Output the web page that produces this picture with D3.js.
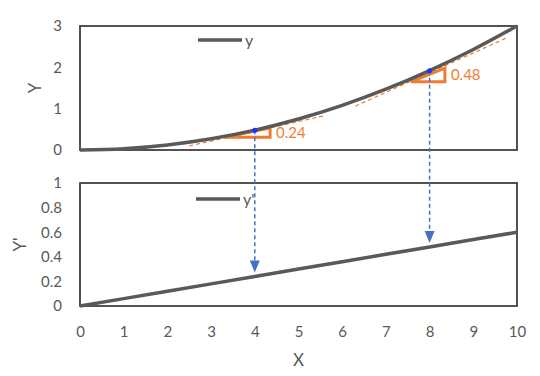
<!DOCTYPE html>
<html>
<head>
<meta charset="utf-8">
<script src="https://cdn.jsdelivr.net/npm/d3@7"></script>
<style>
  body { margin: 0; background: #fff; }
  text { font-family: Lato, "Open Sans", sans-serif; }
</style>
</head>
<body>
<svg id="drawing_region"></svg>
<script>
// data
const xs = [0, 1, 2, 3, 4, 5, 6, 7, 8, 9, 10];
const yVals = [0, 0.03, 0.12, 0.27, 0.48, 0.75, 1.08, 1.47, 1.92, 2.43, 3.0];
const dyVals = [0, 0.06, 0.12, 0.18, 0.24, 0.30, 0.36, 0.42, 0.48, 0.54, 0.60];
const xTicks = [0, 1, 2, 3, 4, 5, 6, 7, 8, 9, 10];
const yTicks = [0, 1, 2, 3];
const dyTicks = [0, 0.2, 0.4, 0.6, 0.8, 1];
// marked points and their slopes
const markX = [4, 8];
const markY = [0.48, 1.92];
const slopeLabels = ['0.24', '0.48'];
// tangent segments [x0, y0, x1, y1]
const tangents = [[2.5, 0.10, 5.6, 0.83], [6.3, 1.06, 9.8, 2.73]];
// slope triangles [xLeft, xRight, yBottom, yTop]
const triangles = [[3.3, 4.35, 0.31, 0.53], [7.57, 8.35, 1.65, 1.98]];

const W = 540, H = 376;
const left = 80, right = 517;
const top1 = 26, bot1 = 150;
const top2 = 183, bot2 = 306;
const grey = '#595959';
const orange = '#ED7D31';
const blue = '#4472C4';

const svg = d3.select('#drawing_region').attr('width', W).attr('height', H);

const x = d3.scaleLinear().domain([0, 10]).range([left, right]);
const y1 = d3.scaleLinear().domain([0, 3]).range([bot1, top1]);
const y2 = d3.scaleLinear().domain([0, 1]).range([bot2, top2]);

// frames
svg.append('rect').attr('x', left).attr('y', top1)
    .attr('width', right - left).attr('height', bot1 - top1)
    .attr('fill', 'none').attr('stroke', '#404040').attr('stroke-width', 1.8);
svg.append('rect').attr('x', left).attr('y', top2)
    .attr('width', right - left).attr('height', bot2 - top2)
    .attr('fill', 'none').attr('stroke', '#404040').attr('stroke-width', 1.8);

// axes (labels only)
function styleAxis(g) {
    g.select('.domain').remove();
    g.selectAll('line').remove();
    g.selectAll('text').attr('fill', grey).style('font-size', '15px')
        .style('font-family', 'Lato, "Open Sans", sans-serif');
}
svg.append('g').attr('transform', `translate(${left - 15},0)`)
    .call(d3.axisLeft(y1).tickValues(yTicks).tickFormat(d3.format('d')).tickSize(0))
    .call(styleAxis);
svg.append('g').attr('transform', `translate(${left - 15},0)`)
    .call(d3.axisLeft(y2).tickValues(dyTicks).tickFormat(d => d === 0 || d === 1 ? d : d.toFixed(1)).tickSize(0))
    .call(styleAxis);
svg.append('g').attr('transform', `translate(0,${bot2 + 17})`)
    .call(d3.axisBottom(x).tickValues(xTicks).tickSize(0))
    .call(styleAxis);

// axis titles
svg.append('text').attr('transform', `translate(41,${(top1 + bot1) / 2}) rotate(-90)`)
    .attr('text-anchor', 'middle').attr('fill', grey).style('font-size', '17px').text('Y');
svg.append('text').attr('transform', `translate(26,${(top2 + bot2) / 2}) rotate(-90)`)
    .attr('text-anchor', 'middle').attr('fill', grey).style('font-size', '17px').text("Y'");
svg.append('text').attr('x', (left + right) / 2).attr('y', 366)
    .attr('text-anchor', 'middle').attr('fill', grey).style('font-size', '17px').text('X');

// tangent lines
svg.selectAll('.tan').data(tangents).enter().append('line')
    .attr('x1', d => x(d[0])).attr('y1', d => y1(d[1]))
    .attr('x2', d => x(d[2])).attr('y2', d => y1(d[3]))
    .attr('stroke', orange).attr('stroke-width', 1.2).attr('stroke-dasharray', '4,3');

// slope triangles
svg.selectAll('.tri').data(triangles).enter().append('path')
    .attr('d', d => `M${x(d[0])},${y1(d[2])}L${x(d[1])},${y1(d[2])}L${x(d[1])},${y1(d[3])}Z`)
    .attr('fill', 'none').attr('stroke', orange).attr('stroke-width', 3)
    .attr('stroke-linejoin', 'miter');
svg.selectAll('.slab').data(triangles).enter().append('text')
    .attr('x', d => x(d[1]) + 6).attr('y', d => y1((d[2] + d[3]) / 2) + 5)
    .attr('fill', orange).style('font-size', '15px')
    .text((d, i) => slopeLabels[i]);

// curves
const line1 = d3.line().x((d, i) => x(xs[i])).y(d => y1(d)).curve(d3.curveMonotoneX);
const line2 = d3.line().x((d, i) => x(xs[i])).y(d => y2(d));
svg.append('path').attr('d', line1(yVals)).attr('fill', 'none')
    .attr('stroke', grey).attr('stroke-width', 3.5);
svg.append('path').attr('d', line2(dyVals)).attr('fill', 'none')
    .attr('stroke', grey).attr('stroke-width', 3.5);

// dashed arrows from the point on y down to y'
markX.forEach((mx, i) => {
    const tipY = y2(dyVals[xs.indexOf(mx)]) - 4;
    svg.append('line')
        .attr('x1', x(mx)).attr('y1', y1(markY[i]))
        .attr('x2', x(mx)).attr('y2', tipY - 10)
        .attr('stroke', blue).attr('stroke-width', 1.5).attr('stroke-dasharray', '4,3');
    svg.append('path')
        .attr('d', `M${x(mx) - 5},${tipY - 12}L${x(mx) + 5},${tipY - 12}L${x(mx)},${tipY}Z`)
        .attr('fill', blue);
    svg.append('circle').attr('cx', x(mx)).attr('cy', y1(markY[i]))
        .attr('r', 2.5).attr('fill', '#1a33ff');
});

// legends
svg.append('line').attr('x1', 198).attr('x2', 242).attr('y1', 40).attr('y2', 40)
    .attr('stroke', grey).attr('stroke-width', 3.5);
svg.append('text').attr('x', 245).attr('y', 46).attr('fill', grey)
    .style('font-size', '16px').text('y');
svg.append('line').attr('x1', 196).attr('x2', 240).attr('y1', 199).attr('y2', 199)
    .attr('stroke', grey).attr('stroke-width', 3.5);
svg.append('text').attr('x', 243).attr('y', 205).attr('fill', grey)
    .style('font-size', '16px').text("y'");
</script>
</body>
</html>
